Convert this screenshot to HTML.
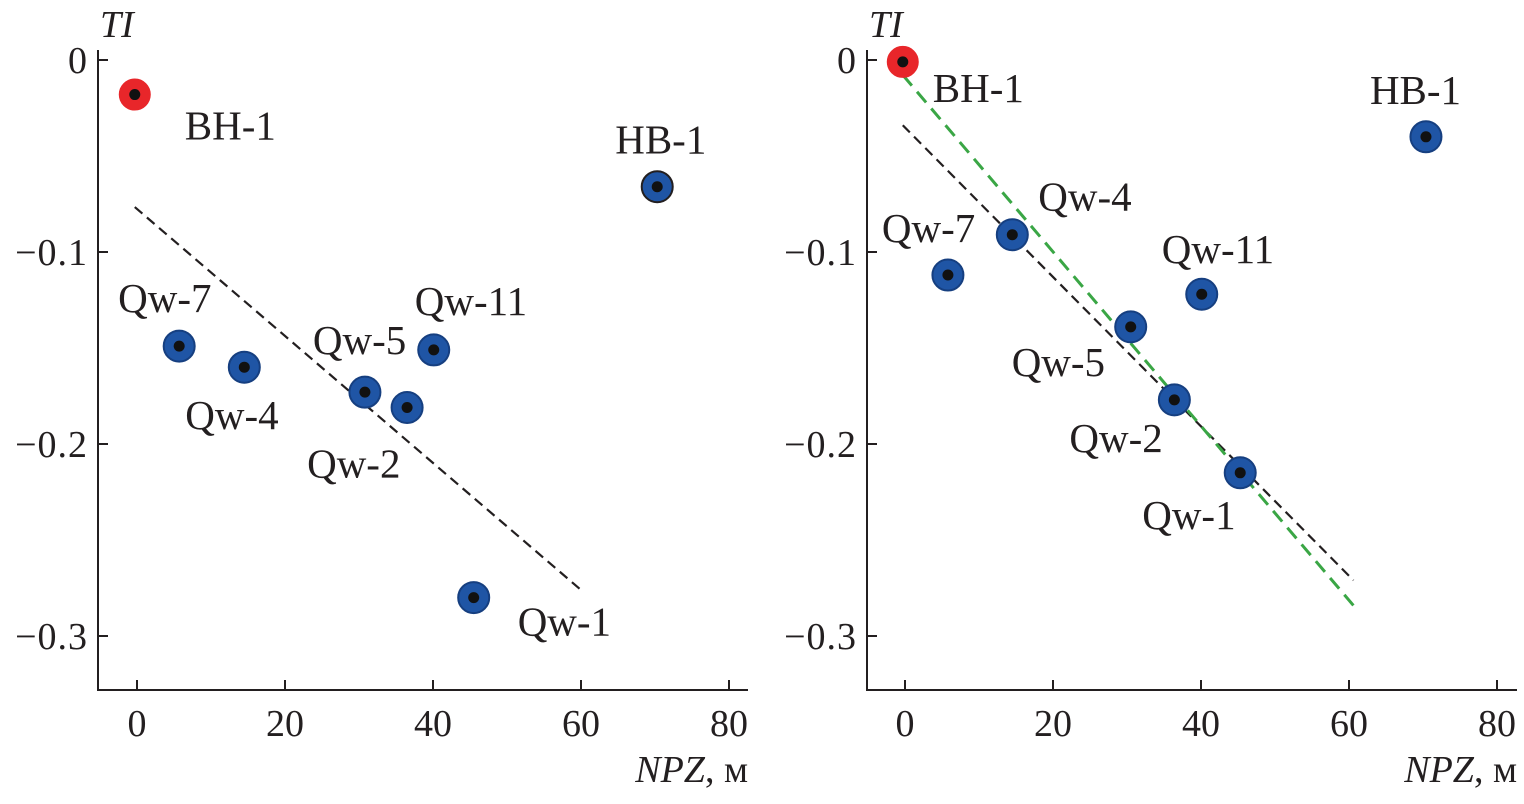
<!DOCTYPE html>
<html><head><meta charset="utf-8"><style>
body{margin:0;background:#fff}
svg text{font-family:"Liberation Serif",serif;fill:#231f20}
</style></head><body>
<svg id="c" width="1524" height="799" viewBox="0 0 1524 799"></svg>
<script>
const names=["BH-1","Qw-7","Qw-4","Qw-5","Qw-2","Qw-11","Qw-1","HB-1"];
const leftX=[-0.3,5.7,14.5,30.8,36.5,40.1,45.5,70.3];
const leftY=[-0.018,-0.149,-0.160,-0.173,-0.181,-0.151,-0.280,-0.066];
const rightX=[-0.3,5.8,14.5,30.5,36.4,40.1,45.3,70.4];
const rightY=[-0.001,-0.112,-0.091,-0.139,-0.177,-0.122,-0.215,-0.040];
const xTicks=[0,20,40,60,80];
const yTicks=[0,-0.1,-0.2,-0.3];
const yTickLabels=["0","\u22120.1","\u22120.2","\u22120.3"];
const leftBlack=[[-0.3,-0.0766],[60.3,-0.277]];
const rightBlack=[[-0.3,-0.034],[60.6,-0.271]];
const rightGreen=[[-0.3,-0.0078],[60.8,-0.285]];
// label offsets (px, start-anchored) per point
const leftLab=[[50,45],[-61,-34],[-59,62],[-52,-38],[-100,70],[-19,-35],[44,38],[-42,-33]];
const rightLab=[[30,40],[-66,-33],[26,-24],[-119,49],[-105,52],[-40,-31],[-98,56],[-56,-33]];
const svg=document.getElementById('c');
const NS='http://www.w3.org/2000/svg';
function mk(t,a,p){const e=document.createElementNS(NS,t);for(const k in a)e.setAttribute(k,a[k]);(p||svg).appendChild(e);return e;}
function panel(ox,axX,xs,ys,labs,lines,side){
  const sx=v=>ox+v*7.4, sy=v=>60-v*1920;
  const g=mk('g',{});
  
  
  const ax=mk('path',{d:`M${axX} 50V690H${axX+650}`,stroke:'#231f20','stroke-width':2,fill:'none'},g);
  
  
  xTicks.forEach(v=>{
    mk('line',{x1:sx(v),x2:sx(v),y1:690,y2:680,stroke:'#231f20','stroke-width':2},g);
    const t=mk('text',{x:sx(v),y:736,'font-size':38,'text-anchor':'middle'},g);t.textContent=v;
    
    
  });
  yTicks.forEach((v,i)=>{
    mk('line',{x1:axX,x2:axX+10,y1:sy(v),y2:sy(v),stroke:'#231f20','stroke-width':2},g);
    const t=mk('text',{x:axX-10,y:sy(v)+13,'font-size':38,'text-anchor':'end','letter-spacing':1},g);t.textContent=yTickLabels[i];
    
    
  });
  const yt=mk('text',{x:axX+2,y:37,'font-size':38,'font-style':'italic'},g);yt.textContent='TI';
  
  
  const xt=mk('text',{x:axX+650,y:782,'font-size':38,'text-anchor':'end'},g);
  xt.innerHTML='<tspan font-style="italic">NPZ</tspan>, м';
  
  
  lines.forEach(l=>{
    const e=mk('line',{x1:sx(l.p[0][0]),y1:sy(l.p[0][1]),x2:sx(l.p[1][0]),y2:sy(l.p[1][1]),stroke:l.c,'stroke-width':l.w,'stroke-dasharray':l.d},g);
    
    
  });
  xs.forEach((x,i)=>{
    const red=i===0;
    const c=mk('circle',{cx:sx(x),cy:sy(ys[i]),r:red?15:15.5,fill:red?'#e8262a':'#1f55a5',stroke:red?'#e8262a':(i===7&&side==='left'?'#231f20':'#163f80'),'stroke-width':2},g);
    
    
    mk('circle',{cx:sx(x),cy:sy(ys[i]),r:5.5,fill:'#111'},g);
    const t=mk('text',{x:sx(x)+labs[i][0],y:sy(ys[i])+labs[i][1],'font-size':41},g);
    t.textContent=names[i];
    
    
  });
}
panel(137,98,leftX,leftY,leftLab,[{p:leftBlack,c:'#231f20',w:2.2,d:'10 6',n:'trend-line'}],'left');
panel(905,867,rightX,rightY,rightLab,[{p:rightBlack,c:'#231f20',w:2.2,d:'10 6',n:'trend-line-black'},{p:rightGreen,c:'#3aa645',w:3,d:'14 8',n:'trend-line-green'}],'right');
</script>
</body></html>
